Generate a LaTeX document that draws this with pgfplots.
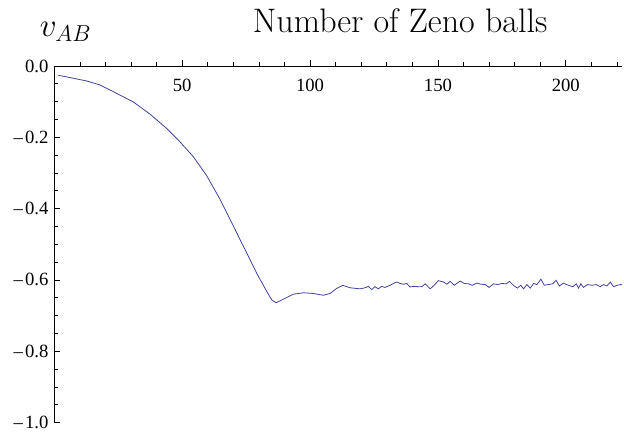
\documentclass[border=0pt]{standalone}
\usepackage{pgfplots}
\pgfplotsset{compat=1.18}
\usepackage{fontspec}
\newfontfamily\timesfont{Liberation Serif}
\definecolor{mmablue}{rgb}{0.26,0.26,0.62}
\newcommand{\mneg}{–\kern1.5pt}

\begin{document}
\begin{tikzpicture}
\useasboundingbox (-40.8pt,-7.9pt) rectangle (427.2pt,316.9pt);
\begin{axis}[
  scale only axis, width=425.7pt, height=267.4pt,
  at={(0,0)}, anchor=south west,
  xmin=0, xmax=222, ymin=-1, ymax=0,
  axis x line*=top, axis y line*=left,
  axis line style={line width=0.6pt, -},
  clip=false,
  tick align=inside,
  major tick length=4.5pt, minor tick length=3pt,
  every tick/.style={black, line width=0.5pt},
  every major x tick/.append style={yshift=4.5pt},
  every minor x tick/.append style={yshift=3pt},
  xtick={50,100,150,200},
  xticklabels={50,100,150,200},
  minor xtick={10,20,30,40,60,70,80,90,110,120,130,140,160,170,180,190,210,220},
  ytick={-1,-0.8,-0.6,-0.4,-0.2,0},
  yticklabels={\mneg1.0,\mneg0.8,\mneg0.6,\mneg0.4,\mneg0.2,0.0},
  minor y tick num=3,
  tick label style={font=\fontsize{14}{16}\timesfont},
  xticklabel style={anchor=north, yshift=-6pt},
  yticklabel style={xshift=-1pt},
]
% velocity curve
\addplot[color=mmablue, line width=0.6pt] coordinates {
(1.5,-0.026)(6.5,-0.033)(12.6,-0.042)(17.8,-0.053)(24.4,-0.077)(30.9,-0.101)
(37.4,-0.135)(43.9,-0.175)(48.5,-0.208)(54.3,-0.254)(59.6,-0.308)
(64.8,-0.374)(70.0,-0.449)(75.2,-0.524)(79.1,-0.581)(83.1,-0.633)
(85.0,-0.656)(86.7,-0.664)(89.6,-0.654)(93.5,-0.640)(97.4,-0.636)
(101.3,-0.638)(105.2,-0.643)(107.8,-0.638)(110.4,-0.624)(112.8,-0.615)
(115.6,-0.622)(119.6,-0.625)(121.5,-0.622)(122.8,-0.618)(124.1,-0.627)
(125.4,-0.619)(126.7,-0.625)(128.0,-0.618)(129.3,-0.621)(131.3,-0.615)
(132.6,-0.610)(133.9,-0.606)(135.2,-0.610)(136.5,-0.612)(137.8,-0.610)
(139.1,-0.620)(140.4,-0.618)(142.4,-0.619)(143.7,-0.619)(145.0,-0.611)
(147.0,-0.625)(148.5,-0.615)(150.2,-0.602)(152.2,-0.606)(153.5,-0.612)
(154.8,-0.604)(156.4,-0.615)(158.7,-0.603)(160.3,-0.610)(161.9,-0.611)
(163.5,-0.615)(165.2,-0.609)(166.8,-0.612)(168.5,-0.613)(170.0,-0.621)
(171.7,-0.611)(173.3,-0.613)(175.0,-0.610)(176.7,-0.611)(178.0,-0.604)
(179.5,-0.615)(181.1,-0.623)(182.4,-0.615)(183.5,-0.625)(184.8,-0.613)
(186.1,-0.623)(187.4,-0.610)(188.7,-0.613)(190.3,-0.598)(191.6,-0.615)
(193.2,-0.613)(194.9,-0.611)(196.2,-0.601)(197.5,-0.617)(199.1,-0.609)
(201.0,-0.615)(202.8,-0.619)(204.1,-0.611)(205.0,-0.623)(205.9,-0.611)
(206.9,-0.621)(208.5,-0.613)(210.2,-0.615)(211.9,-0.613)(213.5,-0.619)
(214.8,-0.613)(216.1,-0.617)(217.4,-0.606)(218.7,-0.619)(220.0,-0.615)
(221.6,-0.613)(222.0,-0.614)
};
\node[anchor=base, yshift=24.75pt, font=\fontsize{25.5}{30}\selectfont]
  at (rel axis cs:0.609,1) {Number of Zeno balls};
\node[anchor=base west, xshift=-14.5pt, yshift=21.75pt, font=\fontsize{23.5}{28}\selectfont]
  at (rel axis cs:0,1) {$v_{AB}$};
\end{axis}
\end{tikzpicture}
\end{document}
